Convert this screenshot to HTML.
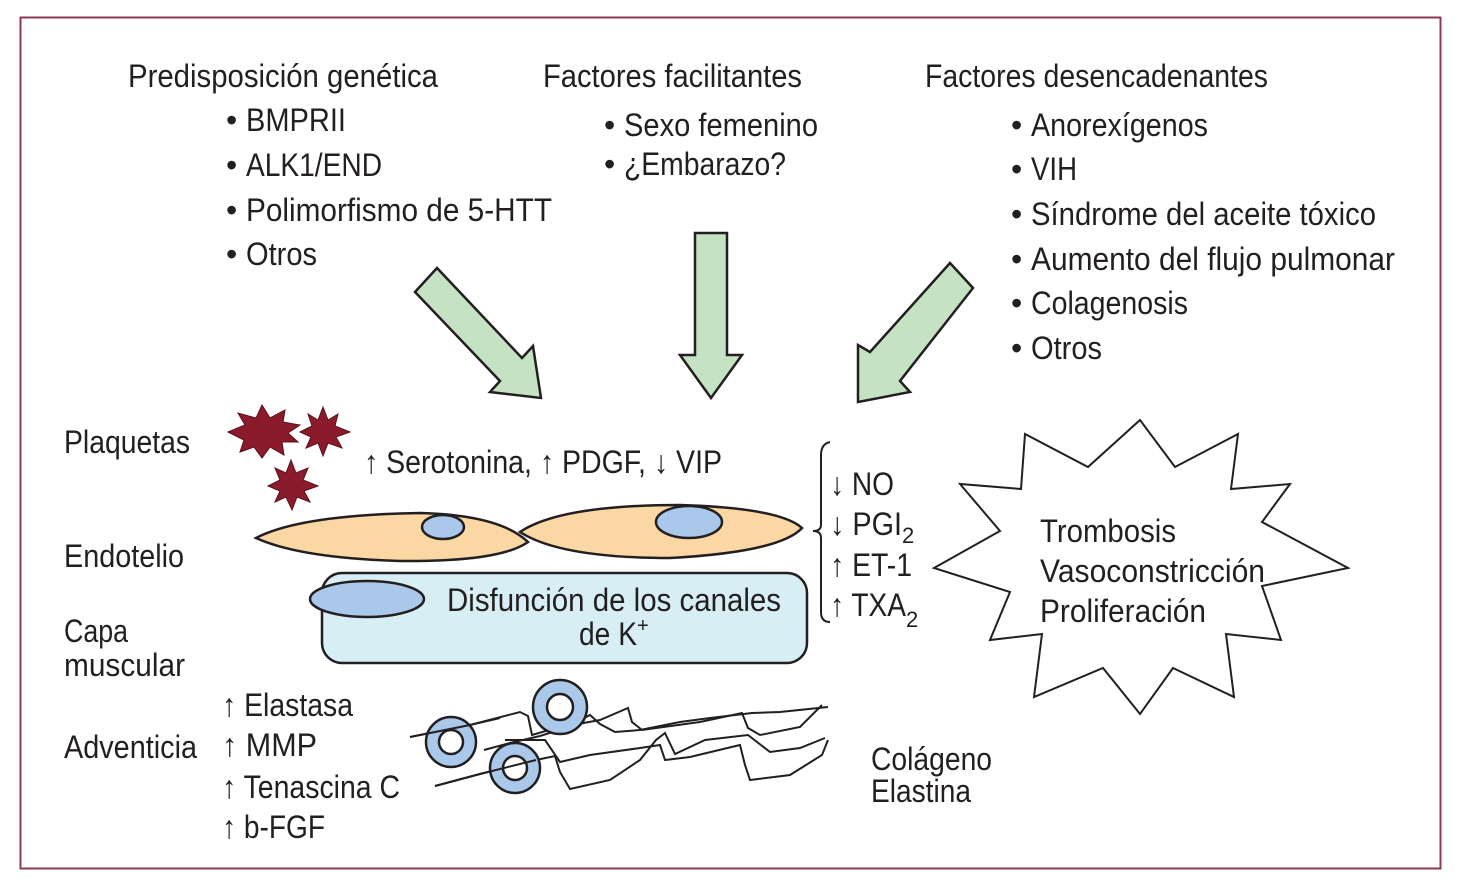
<!DOCTYPE html>
<html><head><meta charset="utf-8"><style>
html,body{margin:0;padding:0;background:#fff}
svg{display:block}
text{font-family:"Liberation Sans Narrow","Liberation Sans",sans-serif;fill:#231f20;font-size:32px}
</style></head><body>
<svg width="1458" height="887" viewBox="0 0 1458 887" xmlns="http://www.w3.org/2000/svg">
<rect x="20.5" y="17.5" width="1420" height="851" fill="#fff" stroke="#8b3a4f" stroke-width="2"/>

<!-- headers -->
<text x="128" y="87" textLength="310" lengthAdjust="spacingAndGlyphs">Predisposición genética</text>
<text x="543" y="87" textLength="259" lengthAdjust="spacingAndGlyphs">Factores facilitantes</text>
<text x="925" y="87" textLength="343" lengthAdjust="spacingAndGlyphs">Factores desencadenantes</text>

<g>
<text x="226" y="131">•</text><text x="246" y="131" textLength="100" lengthAdjust="spacingAndGlyphs">BMPRII</text>
<text x="226" y="176">•</text><text x="246" y="176" textLength="136" lengthAdjust="spacingAndGlyphs">ALK1/END</text>
<text x="226" y="221">•</text><text x="246" y="221" textLength="306" lengthAdjust="spacingAndGlyphs">Polimorfismo de 5-HTT</text>
<text x="226" y="265">•</text><text x="246" y="265" textLength="71" lengthAdjust="spacingAndGlyphs">Otros</text>

<text x="604" y="136">•</text><text x="624" y="136" textLength="194" lengthAdjust="spacingAndGlyphs">Sexo femenino</text>
<text x="604" y="175">•</text><text x="624" y="175" textLength="162" lengthAdjust="spacingAndGlyphs">¿Embarazo?</text>

<text x="1011" y="136">•</text><text x="1031" y="136" textLength="177" lengthAdjust="spacingAndGlyphs">Anorexígenos</text>
<text x="1011" y="180">•</text><text x="1031" y="180" textLength="46" lengthAdjust="spacingAndGlyphs">VIH</text>
<text x="1011" y="225">•</text><text x="1031" y="225" textLength="345" lengthAdjust="spacingAndGlyphs">Síndrome del aceite tóxico</text>
<text x="1011" y="270">•</text><text x="1031" y="270" textLength="364" lengthAdjust="spacingAndGlyphs">Aumento del flujo pulmonar</text>
<text x="1011" y="314">•</text><text x="1031" y="314" textLength="157" lengthAdjust="spacingAndGlyphs">Colagenosis</text>
<text x="1011" y="359">•</text><text x="1031" y="359" textLength="71" lengthAdjust="spacingAndGlyphs">Otros</text>
</g>

<!-- arrows -->
<g fill="#c5e3c3" stroke="#231f20" stroke-width="2.5" stroke-linejoin="miter">
<polygon points="415,292 437,268 522,358 533,346 541,398 490,392 500,381"/>
<polygon points="695,233 727,233 727,355 742,355 711,398 680,355 695,355"/>
<polygon points="973,288 950,263 870,352 858,345 858,402 910,392 900,381"/>
</g>

<!-- left labels -->
<text x="64" y="453" textLength="126" lengthAdjust="spacingAndGlyphs">Plaquetas</text>
<text x="64" y="567" textLength="120" lengthAdjust="spacingAndGlyphs">Endotelio</text>
<text x="64" y="642" textLength="64" lengthAdjust="spacingAndGlyphs">Capa</text>
<text x="64" y="676" textLength="121" lengthAdjust="spacingAndGlyphs">muscular</text>
<text x="64" y="758" textLength="133" lengthAdjust="spacingAndGlyphs">Adventicia</text>

<!-- platelets -->
<g fill="#8b1a2a" stroke="#5a0f18" stroke-width="1">
<polygon points="228,432 245,425 238,413 256,418 262,405 270,418 285,410 283,422 300,425 288,433 298,442 282,442 284,455 270,447 262,458 254,447 240,452 244,440"/>
<polygon points="300,432 312,426 308,414 318,420 323,407 328,420 338,414 335,426 350,432 336,437 342,448 328,443 323,456 318,443 306,448 311,437"/>
<polygon points="268,486 280,480 275,468 286,473 291,460 296,473 308,468 303,480 318,486 304,491 310,502 297,497 292,510 286,497 275,502 280,491"/>
</g>

<text x="364" y="473" textLength="358" lengthAdjust="spacingAndGlyphs">↑ Serotonina, ↑ PDGF, ↓ VIP</text>

<!-- muscle layer -->
<rect x="322" y="573" width="485" height="90" rx="20" fill="#d6eef4" stroke="#231f20" stroke-width="2.5"/>
<ellipse cx="367" cy="599" rx="57" ry="18" fill="#a9c8ea" stroke="#231f20" stroke-width="2.5"/>
<text x="447" y="611" textLength="334" lengthAdjust="spacingAndGlyphs">Disfunción de los canales</text>
<text x="579" y="645" textLength="58" lengthAdjust="spacingAndGlyphs">de K</text>
<text x="637" y="632" style="font-size:20px">+</text>

<!-- endothelial cells -->
<path d="M256,538 Q300,515 420,513 Q500,515 528,542 Q500,562 400,561 Q300,558 256,538 Z" fill="#fbd7a4" stroke="#231f20" stroke-width="2.5"/>
<path d="M520,532 Q560,505 680,505 Q780,508 802,528 Q780,552 670,558 Q560,558 520,532 Z" fill="#fbd7a4" stroke="#231f20" stroke-width="2.5"/>
<ellipse cx="443" cy="527" rx="21" ry="12" fill="#a9c8ea" stroke="#231f20" stroke-width="2.5"/>
<ellipse cx="689" cy="522" rx="33" ry="16" fill="#a9c8ea" stroke="#231f20" stroke-width="2.5"/>

<!-- bracket -->
<path d="M830,442 Q821,444 821,455 L821,525 Q821,531 813,531 Q821,531 821,538 L821,612 Q821,622 830,622" fill="none" stroke="#231f20" stroke-width="2"/>
<text x="830" y="495" textLength="64" lengthAdjust="spacingAndGlyphs">↓ NO</text>
<text x="830" y="535" textLength="72" lengthAdjust="spacingAndGlyphs">↓ PGI</text>
<text x="902" y="543" style="font-size:22px">2</text>
<text x="830" y="576" textLength="82" lengthAdjust="spacingAndGlyphs">↑ ET-1</text>
<text x="830" y="616" textLength="76" lengthAdjust="spacingAndGlyphs">↑ TXA</text>
<text x="906" y="627" style="font-size:22px">2</text>

<!-- star -->
<polygon fill="#fff" stroke="#231f20" stroke-width="2" points="1140,420 1175,467 1238,434 1231,489 1290,484 1262,522 1348,568 1262,586 1281,640 1226,634 1234,697 1173,668 1140,714 1103,668 1034,697 1042,634 990,640 1010,592 934,568 1000,531 960,484 1021,489 1025,434 1088,467"/>
<text x="1040" y="542" textLength="136" lengthAdjust="spacingAndGlyphs">Trombosis</text>
<text x="1040" y="582" textLength="225" lengthAdjust="spacingAndGlyphs">Vasoconstricción</text>
<text x="1040" y="622" textLength="166" lengthAdjust="spacingAndGlyphs">Proliferación</text>

<!-- adventitia -->
<text x="222" y="716" textLength="131" lengthAdjust="spacingAndGlyphs">↑ Elastasa</text>
<text x="222" y="756" textLength="95" lengthAdjust="spacingAndGlyphs">↑ MMP</text>
<text x="222" y="798" textLength="178" lengthAdjust="spacingAndGlyphs">↑ Tenascina C</text>
<text x="222" y="838" textLength="103" lengthAdjust="spacingAndGlyphs">↑ b-FGF</text>

<g fill="none" stroke="#231f20" stroke-width="2">
<polyline points="410,737 470,725 520,712 528,716 532,735 556,728 600,720 628,708 632,722 642,730 700,722 742,713 748,728 760,735 800,727 822,705"/>
<polyline points="484,750 510,743 540,736 566,728 590,715 600,724 615,732 640,730 680,722 710,718 752,713 780,712 828,707"/>
<polyline points="435,786 480,774 536,760 555,756 560,772 570,789 610,780 640,760 656,740 665,733 675,754 705,740 748,735 770,752 800,748 825,738"/>
<polyline points="505,740 545,740 560,762 590,755 640,748 660,745 665,760 690,757 740,745 745,765 750,780 790,775 822,755 828,740"/>
</g>
<g fill="#a9c8ea" stroke="#231f20" stroke-width="2.5">
<circle cx="451" cy="742" r="25"/>
<circle cx="560" cy="707" r="27"/>
<circle cx="515" cy="768" r="25"/>
</g>
<g fill="#fff" stroke="#231f20" stroke-width="2.5">
<circle cx="451" cy="742" r="12"/>
<circle cx="560" cy="707" r="13"/>
<circle cx="515" cy="768" r="12"/>
</g>
<polyline points="410,737 470,725 500,718" fill="none" stroke="#231f20" stroke-width="2"/>
<polyline points="435,786 480,774 536,760" fill="none" stroke="#231f20" stroke-width="2"/>

<text x="871" y="770" textLength="121" lengthAdjust="spacingAndGlyphs">Colágeno</text>
<text x="871" y="802" textLength="100" lengthAdjust="spacingAndGlyphs">Elastina</text>
</svg>
</body></html>
